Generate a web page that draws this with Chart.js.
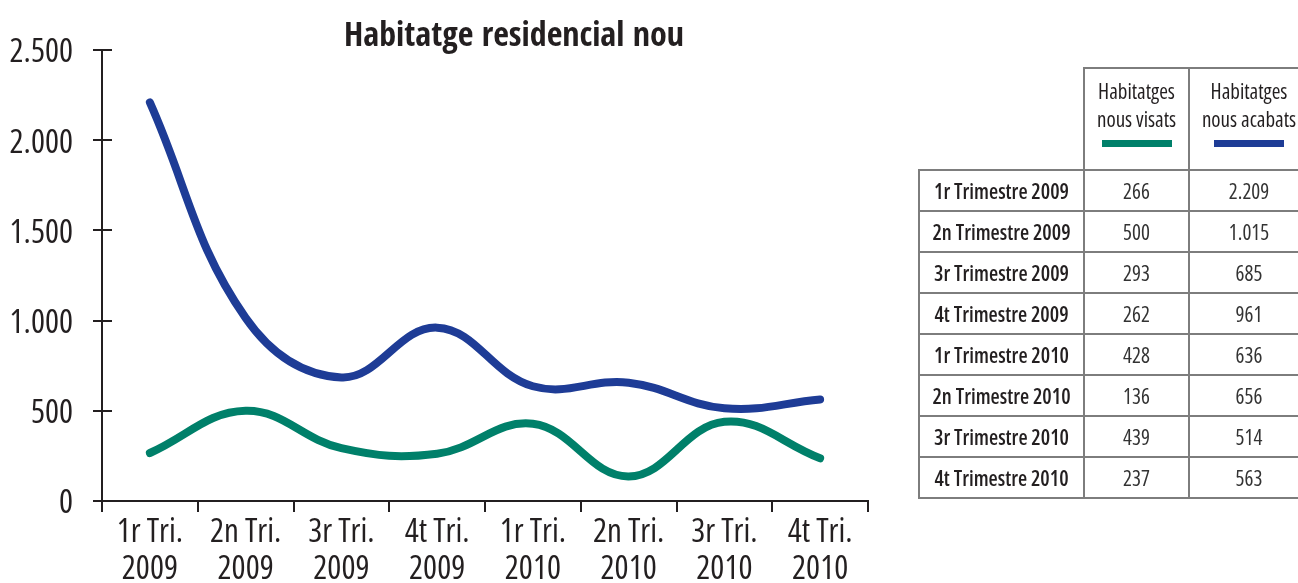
<!DOCTYPE html>
<html>
<head>
<meta charset="utf-8">
<script src="https://cdn.jsdelivr.net/npm/chart.js@4/dist/chart.umd.min.js"></script>
<style>
  html, body { margin: 0; padding: 0; background: #ffffff; }
  body { width: 1298px; height: 583px; position: relative; overflow: hidden;
         font-family: "Open Sans", "Roboto Condensed", sans-serif; font-stretch: condensed; color: #231F20; }
  #wrap { position: absolute; left: 0; top: 0; width: 1028px; height: 583px; }
  #tbl { position: absolute; left: 918px; top: 67px; width: 390px; border-collapse: collapse; table-layout: fixed; white-space: nowrap; }
  #tbl td, #tbl th { border: 2px solid #7d7d7d; padding: 0; text-align: center; vertical-align: middle; }
  #tbl tr.head td.blank { border: none; }
  #tbl tr.head th { height: 100px; vertical-align: top; font-weight: 500; font-size: 21px; line-height: 28px; }
  #tbl tr.head th .txt { padding-top: 8px; }
  #tbl tr.head th .bar { width: 70px; height: 7px; margin: 7px auto 0 auto; }
  #tbl tr.row td { height: 39px; font-size: 21px; }
  #tbl tr.row td.lbl { font-weight: 600; font-size: 21px; }
  #tbl tr.row td.val { color: #333333; font-weight: 400; }
</style>
</head>
<body>
<div id="wrap"><canvas id="c"></canvas></div>
<table id="tbl">
  <colgroup><col style="width:165px"><col style="width:105px"><col style="width:120px"></colgroup>
  <tbody id="tbody"></tbody>
</table>
<script>
// ---- data ----
const categories = [
  ['1r Tri.', '2009'], ['2n Tri.', '2009'], ['3r Tri.', '2009'], ['4t Tri.', '2009'],
  ['1r Tri.', '2010'], ['2n Tri.', '2010'], ['3r Tri.', '2010'], ['4t Tri.', '2010']
];
const tableLabels = [
  '1r Trimestre 2009', '2n Trimestre 2009', '3r Trimestre 2009', '4t Trimestre 2009',
  '1r Trimestre 2010', '2n Trimestre 2010', '3r Trimestre 2010', '4t Trimestre 2010'
];
const seriesNames = [['Habitatges', 'nous visats'], ['Habitatges', 'nous acabats']];
const visats = [266, 500, 293, 262, 428, 136, 439, 237];
const acabats = [2209, 1015, 685, 961, 636, 656, 514, 563];
const yTickLabels = ['0', '500', '1.000', '1.500', '2.000', '2.500'];
const titleText = 'Habitatge residencial nou';

const GREEN = '#00806A';
const BLUE = '#1E3C96';
const INK = '#231F20';
const FONT = '"Open Sans", "Roboto Condensed", sans-serif';
const TITLE_FONT = '"Open Sans Condensed", "Roboto Condensed", sans-serif';

function fmt(n) { return String(n).replace(/\B(?=(\d{3})+(?!\d))/g, '.'); }

// ---- table ----
const tbody = document.getElementById('tbody');
let html = '<tr class="head"><td class="blank"></td>';
[GREEN, BLUE].forEach((col, i) => {
  html += '<th><div class="txt">' + seriesNames[i].join('<br>') + '</div><div class="bar" style="background:' + col + '"></div></th>';
});
html += '</tr>';
tableLabels.forEach((lbl, i) => {
  html += '<tr class="row"><td class="lbl">' + lbl + '</td><td class="val">' + fmt(visats[i]) + '</td><td class="val">' + fmt(acabats[i]) + '</td></tr>';
});
tbody.innerHTML = html;

// ---- inner tick stubs on y axis ----
const innerTicks = {
  id: 'innerTicks',
  afterDraw(chart) {
    const ys = chart.scales.y;
    const ctx = chart.ctx;
    ctx.save();
    ctx.strokeStyle = INK;
    ctx.lineWidth = 2;
    ys.ticks.forEach((t, i) => {
      const py = Math.round(ys.getPixelForTick(i));
      ctx.beginPath();
      ctx.moveTo(ys.right, py);
      ctx.lineTo(ys.right + 10, py);
      ctx.stroke();
    });
    ctx.restore();
  }
};

new Chart(document.getElementById('c'), {
  type: 'line',
  data: {
    labels: categories,
    datasets: [
      { label: seriesNames[0].join(' '), data: visats, borderColor: GREEN, backgroundColor: GREEN,
        borderWidth: 8, pointRadius: 0, tension: 0.4, borderCapStyle: 'round', borderJoinStyle: 'round', fill: false },
      { label: seriesNames[1].join(' '), data: acabats, borderColor: BLUE, backgroundColor: BLUE,
        borderWidth: 8, pointRadius: 0, tension: 0.4, borderCapStyle: 'round', borderJoinStyle: 'round', fill: false }
    ]
  },
  options: {
    responsive: true,
    maintainAspectRatio: false,
    animation: false,
    layout: { padding: 0 },
    plugins: {
      legend: { display: false },
      tooltip: { enabled: false },
      title: {
        display: true, text: titleText, color: INK,
        font: { family: TITLE_FONT, size: 34, weight: 'bold', lineHeight: 0.6 },
        padding: { top: 27, bottom: 2.6 }
      }
    },
    scales: {
      x: {
        offset: true,
        border: { display: true, color: INK, width: 2 },
        grid: { display: true, drawOnChartArea: false, drawTicks: true, tickLength: 11, color: INK, lineWidth: 2, offset: true },
        ticks: { color: INK, font: { family: FONT, size: 33, weight: 'condensed', lineHeight: 1.12 }, padding: 2, maxRotation: 0, autoSkip: false },
        afterFit(s) { s.height = 82; }
      },
      y: {
        min: 0, max: 2500,
        border: { display: true, color: INK, width: 2 },
        grid: { display: true, drawOnChartArea: false, drawTicks: true, tickLength: 9, color: INK, lineWidth: 2 },
        ticks: { stepSize: 500, color: INK, padding: 20, labelOffset: 3,
                 font: { family: FONT, size: 33, weight: 'condensed' },
                 callback: (v, i) => yTickLabels[i] },
        afterFit(s) { s.width = 102; }
      },
      spacer: {
        type: 'linear', position: 'right', display: true,
        border: { display: false }, grid: { display: false }, ticks: { display: false },
        afterFit(s) { s.width = 160; }
      }
    }
  },
  plugins: [innerTicks]
});
</script>
</body>
</html>
